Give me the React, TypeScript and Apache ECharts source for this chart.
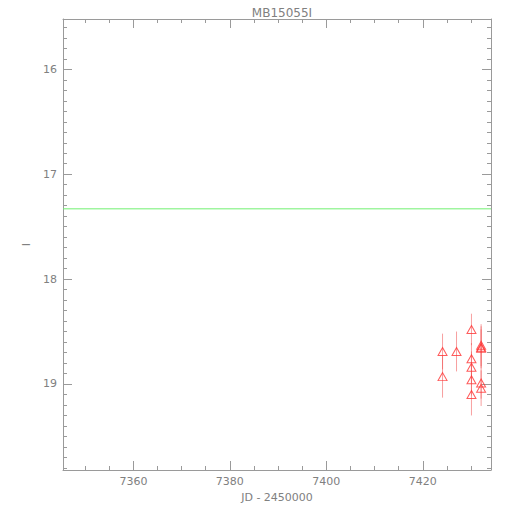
import React, { useEffect, useRef } from "react";
import * as echarts from "echarts";

const title = "MB15055I";
const xName = "JD - 2450000";
const yName = "I";
const xRange = [7345.4, 7434.15];
const yRange = [15.52, 19.82];
const xMajor = [7360, 7380, 7400, 7420];
const yMajor = [16, 17, 18, 19];
const jd = [7424.1, 7424.1, 7427.0, 7430.1, 7430.1, 7430.1, 7430.1, 7430.1, 7432.1, 7432.1, 7432.1, 7432.1, 7432.1];
const mag = [18.69, 18.93, 18.69, 18.48, 18.76, 18.84, 18.96, 19.1, 18.63, 18.65, 18.66, 18.99, 19.04];
const err = [0.17, 0.2, 0.19, 0.15, 0.15, 0.15, 0.15, 0.2, 0.2, 0.2, 0.18, 0.15, 0.17];
const baseline = [17.33];

const AX = "#9a9a9a";
const TXT = "#808080";
const FONT = "DejaVu Sans";

function steps(a: number, b: number, s: number) {
  const out: number[] = [];
  const n = Math.round((b - a) / s);
  for (let i = 0; i <= n; i++) out.push(+(a + i * s).toFixed(4));
  return out;
}
const xMinor = steps(7350, 7430, 5);
const yMinor = steps(15.6, 19.8, 0.1);

function xAxisDef(position: string, ticks: number[], len: number, labels: boolean, line: boolean) {
  return {
    type: "value",
    position,
    min: xRange[0],
    max: xRange[1],
    name: labels ? xName : "",
    nameLocation: "middle",
    nameGap: 18,
    nameTextStyle: { color: TXT, fontFamily: FONT, fontSize: 11 },
    axisLine: { show: line, lineStyle: { color: AX, width: 1 } },
    axisTick: { show: true, inside: true, length: len, customValues: ticks, lineStyle: { color: AX, width: 1 } },
    axisLabel: {
      show: labels,
      customValues: xMajor,
      formatter: (v: number) => String(Math.round(v)),
      color: TXT,
      fontFamily: FONT,
      fontSize: 11,
      margin: 6,
    },
    splitLine: { show: false },
  };
}
function yAxisDef(position: string, ticks: number[], len: number, labels: boolean, line: boolean) {
  return {
    type: "value",
    position,
    inverse: true,
    min: yRange[0],
    max: yRange[1],
    name: labels ? yName : "",
    nameLocation: "middle",
    nameGap: 28,
    nameTextStyle: { color: TXT, fontFamily: FONT, fontSize: 11 },
    axisLine: { show: line, lineStyle: { color: AX, width: 1 } },
    axisTick: { show: true, inside: true, length: len, customValues: ticks, lineStyle: { color: AX, width: 1 } },
    axisLabel: {
      show: labels,
      customValues: yMajor,
      formatter: (v: number) => String(Math.round(v)),
      color: TXT,
      fontFamily: FONT,
      fontSize: 11,
      margin: 6,
    },
    splitLine: { show: false },
  };
}

export default function App() {
  const ref = useRef<HTMLDivElement>(null);
  useEffect(() => {
    if (!ref.current) return;
    const chart = echarts.init(ref.current, undefined, { renderer: "svg" });
    const points = jd.map((x, i) => [x, mag[i], err[i]]);
    chart.setOption({
      animation: false,
      backgroundColor: "#ffffff",
      title: {
        text: title,
        left: 277,
        top: 2,
        textAlign: "center",
        textStyle: { color: TXT, fontFamily: FONT, fontSize: 12, fontWeight: "normal" },
      },
      grid: { left: 63, right: 19, top: 19, bottom: 40, containLabel: false },
      xAxis: [
        xAxisDef("bottom", xMajor, 9, true, true),
        xAxisDef("bottom", xMinor, 4, false, false),
        xAxisDef("top", xMajor, 9, false, true),
        xAxisDef("top", xMinor, 4, false, false),
      ],
      yAxis: [
        yAxisDef("left", yMajor, 9, true, true),
        yAxisDef("left", yMinor, 4, false, false),
        yAxisDef("right", yMajor, 9, false, true),
        yAxisDef("right", yMinor, 4, false, false),
      ],
      series: [
        {
          type: "line",
          data: [[xRange[0], baseline[0]], [xRange[1], baseline[0]]],
          symbol: "none",
          lineStyle: { color: "#70f070", width: 1 },
          silent: true,
        },
        {
          type: "custom",
          data: points,
          renderItem: (params: any, api: any) => {
            const x = api.value(0);
            const y = api.value(1);
            const e = api.value(2);
            const p1 = api.coord([x, y - e]);
            const p2 = api.coord([x, y + e]);
            return {
              type: "line",
              shape: { x1: p1[0], y1: p1[1], x2: p2[0], y2: p2[1] },
              style: { stroke: "rgba(240,80,80,0.55)", lineWidth: 1 },
            };
          },
          silent: true,
        },
        {
          type: "scatter",
          data: points.map((p) => [p[0], p[1]]),
          symbol: "triangle",
          symbolSize: [9, 8],
          itemStyle: { color: "rgba(255,255,255,0)", borderColor: "#ff3333", borderWidth: 1 },
          silent: true,
        },
      ],
    });
    return () => chart.dispose();
  }, []);
  return <div ref={ref} style={{ position: "fixed", left: 0, top: 0, width: 510, height: 510 }} />;
}
